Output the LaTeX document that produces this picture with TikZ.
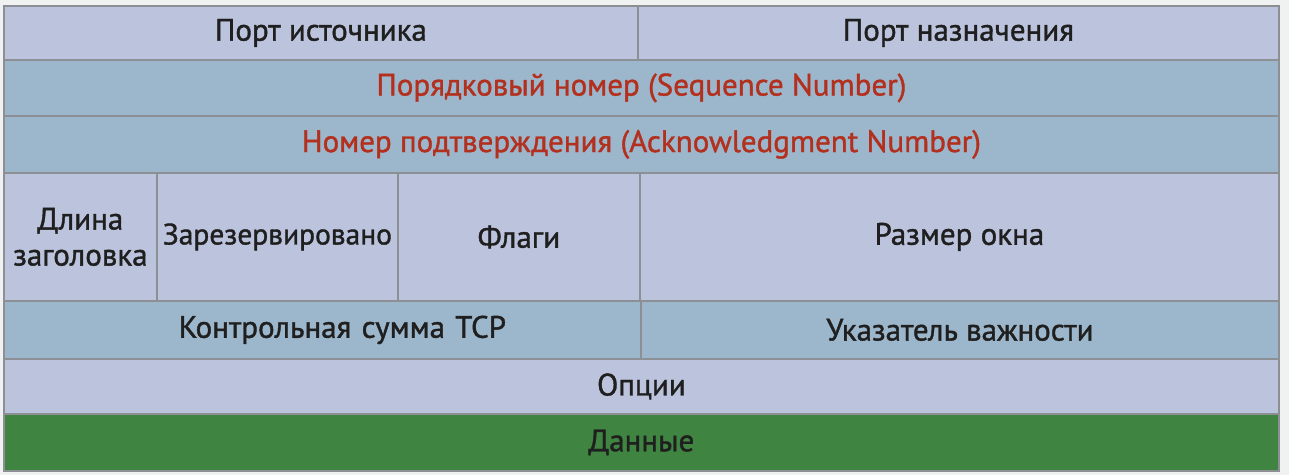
\documentclass[tikz,border=0pt]{standalone}
\usepackage{fontspec}
\setmainfont{PT Sans}
\newfontfamily\cellfont{PT Sans}[FakeBold=1.2]
\definecolor{lav}{HTML}{BCC4DD}
\definecolor{steel}{HTML}{9CB7CB}
\definecolor{grn}{HTML}{3F8441}
\definecolor{redt}{HTML}{B3301F}
\definecolor{edge}{HTML}{8C9094}
\definecolor{bg}{HTML}{F0F1F1}
\begin{document}
\begin{tikzpicture}[x=1pt,y=-1pt,
  cell/.style={draw=edge, line width=1.8pt, anchor=north west, inner sep=0pt,
    font=\cellfont\fontsize{31}{36}\selectfont, align=center, text=black!88},
  light/.style={cell, fill=lav},
  dark/.style={cell, fill=steel},
  green/.style={cell, fill=grn}]
\fill[bg] (0,0) rectangle (1289,475);
\useasboundingbox (0,0) rectangle (1289,475);
% row 1
\node[light, minimum width=634pt, minimum height=54pt] (src) at (3,5) {Порт источника};
\node[light, minimum width=641pt, minimum height=54pt] (dst) at (637,5) {Порт назначения};
% row 2
\node[dark, text=redt, minimum width=1275pt, minimum height=56pt] (seq) at (3,59) {Порядковый номер (Sequence Number)};
% row 3
\node[dark, text=redt, minimum width=1275pt, minimum height=57pt] (ack) at (3,115) {Номер подтверждения (Acknowledgment Number)};
% row 4
\node[light, minimum width=153pt, minimum height=128pt] (hlen) at (3,172) {Длина\\заголовка};
\node[light, minimum width=241pt, minimum height=128pt, font=\cellfont\fontsize{29.5}{36}\selectfont] (res) at (156,172) {Зарезервировано};
\node[light, minimum width=242pt, minimum height=128pt] (flags) at (397,172) {Флаги};
\node[light, minimum width=639pt, minimum height=128pt] (win) at (639,172) {Размер окна};
% row 5
\node[dark, minimum width=637pt, minimum height=58pt, text width=637pt] (csum) at (3,300) {\hspace*{40pt}Контрольная сумма TCP};
\node[dark, minimum width=638pt, minimum height=58pt] (urg) at (640,300) {Указатель важности};
% row 6
\node[light, minimum width=1275pt, minimum height=55pt] (opt) at (3,358) {Опции};
% row 7
\node[green, minimum width=1275pt, minimum height=57pt] (data) at (3,413) {Данные};
\end{tikzpicture}
\end{document}
